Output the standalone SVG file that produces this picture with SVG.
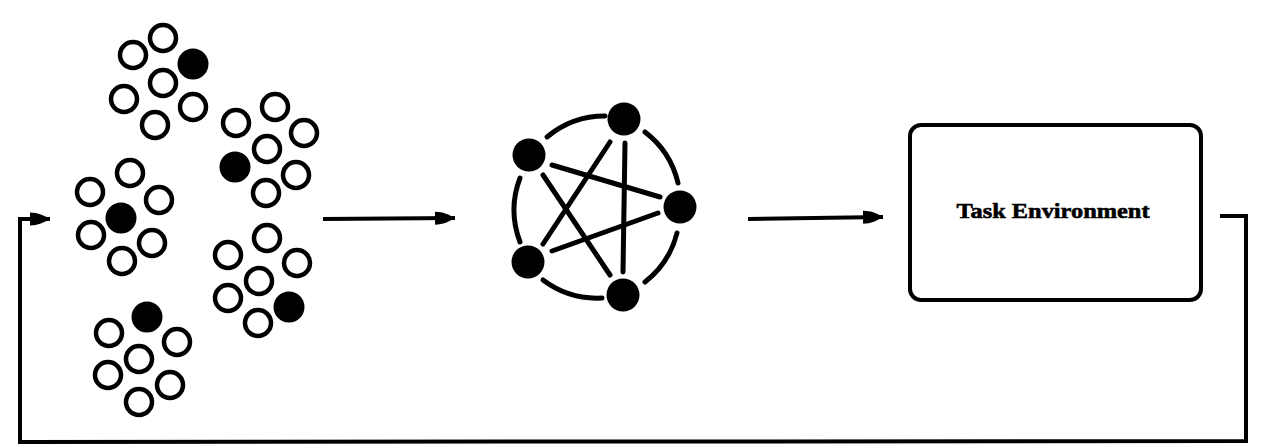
<svg xmlns="http://www.w3.org/2000/svg" width="1270" height="447" viewBox="0 0 1270 447">
<style>
.o{fill:#fff;stroke:#000;stroke-width:4.5}
.f{fill:#000}
.ln{fill:none;stroke:#000;stroke-width:5;stroke-linecap:round}
.wire{fill:none;stroke:#000;stroke-width:4;stroke-linejoin:miter}
.lbl{font-family:"Liberation Serif","Times New Roman",serif;font-weight:bold;font-size:22px;fill:#000;stroke:#000;stroke-width:0.6}
</style>
<defs>
<marker id="ah" markerUnits="userSpaceOnUse" markerWidth="22" markerHeight="16" refX="20" refY="8" orient="auto">
<path d="M0,1.5 C8,1.5 14,4.5 20,8 C14,11.5 8,14.5 0,14.5 Z" fill="#000"/>
</marker>
</defs>
<rect width="1270" height="447" fill="#fff"/>

<g id="cluster-a">
<circle class="o" cx="163" cy="38" r="13"/>
<circle class="o" cx="133" cy="55" r="13"/>
<circle class="f" cx="193" cy="64" r="15.5"/>
<circle class="o" cx="163" cy="83" r="13"/>
<circle class="o" cx="124" cy="99" r="13"/>
<circle class="o" cx="193" cy="107" r="13"/>
<circle class="o" cx="155" cy="125" r="13"/>
</g>
<g id="cluster-b">
<circle class="o" cx="275" cy="107" r="13"/>
<circle class="o" cx="304" cy="133" r="13"/>
<circle class="o" cx="236" cy="123" r="13"/>
<circle class="o" cx="267" cy="149" r="13"/>
<circle class="f" cx="235" cy="167" r="15.5"/>
<circle class="o" cx="296" cy="175" r="13"/>
<circle class="o" cx="266" cy="193" r="13"/>
</g>
<g id="cluster-c">
<circle class="o" cx="130" cy="173" r="13"/>
<circle class="o" cx="90" cy="192" r="13"/>
<circle class="o" cx="159" cy="200" r="13"/>
<circle class="f" cx="121" cy="218" r="15.5"/>
<circle class="o" cx="91" cy="235" r="13"/>
<circle class="o" cx="152" cy="243" r="13"/>
<circle class="o" cx="122" cy="261" r="13"/>
</g>
<g id="cluster-d">
<circle class="o" cx="267" cy="238" r="13"/>
<circle class="o" cx="228" cy="255" r="13"/>
<circle class="o" cx="297" cy="263" r="13"/>
<circle class="o" cx="259" cy="281" r="13"/>
<circle class="o" cx="228" cy="298" r="13"/>
<circle class="f" cx="289" cy="307" r="15.5"/>
<circle class="o" cx="258" cy="323" r="13"/>
</g>
<g id="cluster-e">
<circle class="f" cx="147" cy="317" r="15.5"/>
<circle class="o" cx="109" cy="333" r="13"/>
<circle class="o" cx="177" cy="342" r="13"/>
<circle class="o" cx="139" cy="359" r="13"/>
<circle class="o" cx="108" cy="375" r="13"/>
<circle class="o" cx="170" cy="385" r="13"/>
<circle class="o" cx="139" cy="402" r="13"/>
</g>

<g id="network">
<path class="ln" d="M547,137 A90,90 0 0 1 605,116"/>
<path class="ln" d="M645,132 A90,90 0 0 1 678,183"/>
<path class="ln" d="M677,233 A90,90 0 0 1 645,282"/>
<path class="ln" d="M602,298 A90,90 0 0 1 543,280"/>
<path class="ln" d="M520,242 A90,90 0 0 1 520,178"/>
<line class="ln" x1="552" y1="165" x2="660" y2="197"/>
<line class="ln" x1="543" y1="175" x2="610" y2="275"/>
<line class="ln" x1="610" y1="142" x2="543" y2="244"/>
<line class="ln" x1="625" y1="143" x2="623" y2="272"/>
<line class="ln" x1="658" y1="213" x2="552" y2="251"/>
<circle class="f" cx="624" cy="119" r="16.5"/>
<circle class="f" cx="529" cy="155" r="16.5"/>
<circle class="f" cx="680" cy="207" r="16.5"/>
<circle class="f" cx="528" cy="262" r="16.5"/>
<circle class="f" cx="623" cy="295" r="16.5"/>
</g>

<g id="task-environment">
<rect x="910" y="125" width="291" height="175" rx="11" ry="11" fill="none" stroke="#000" stroke-width="4"/>
<text class="lbl" x="1053" y="218" text-anchor="middle" textLength="193" lengthAdjust="spacingAndGlyphs">Task Environment</text>
</g>

<g id="connectors">
<line class="wire" x1="323" y1="219" x2="455" y2="218" marker-end="url(#ah)"/>
<line class="wire" x1="748" y1="219" x2="883" y2="217" marker-end="url(#ah)"/>
<path class="wire" d="M1220,216 L1246,216 L1246,441 L20,442 L20,219 L50,219" marker-end="url(#ah)"/>
</g>
</svg>
